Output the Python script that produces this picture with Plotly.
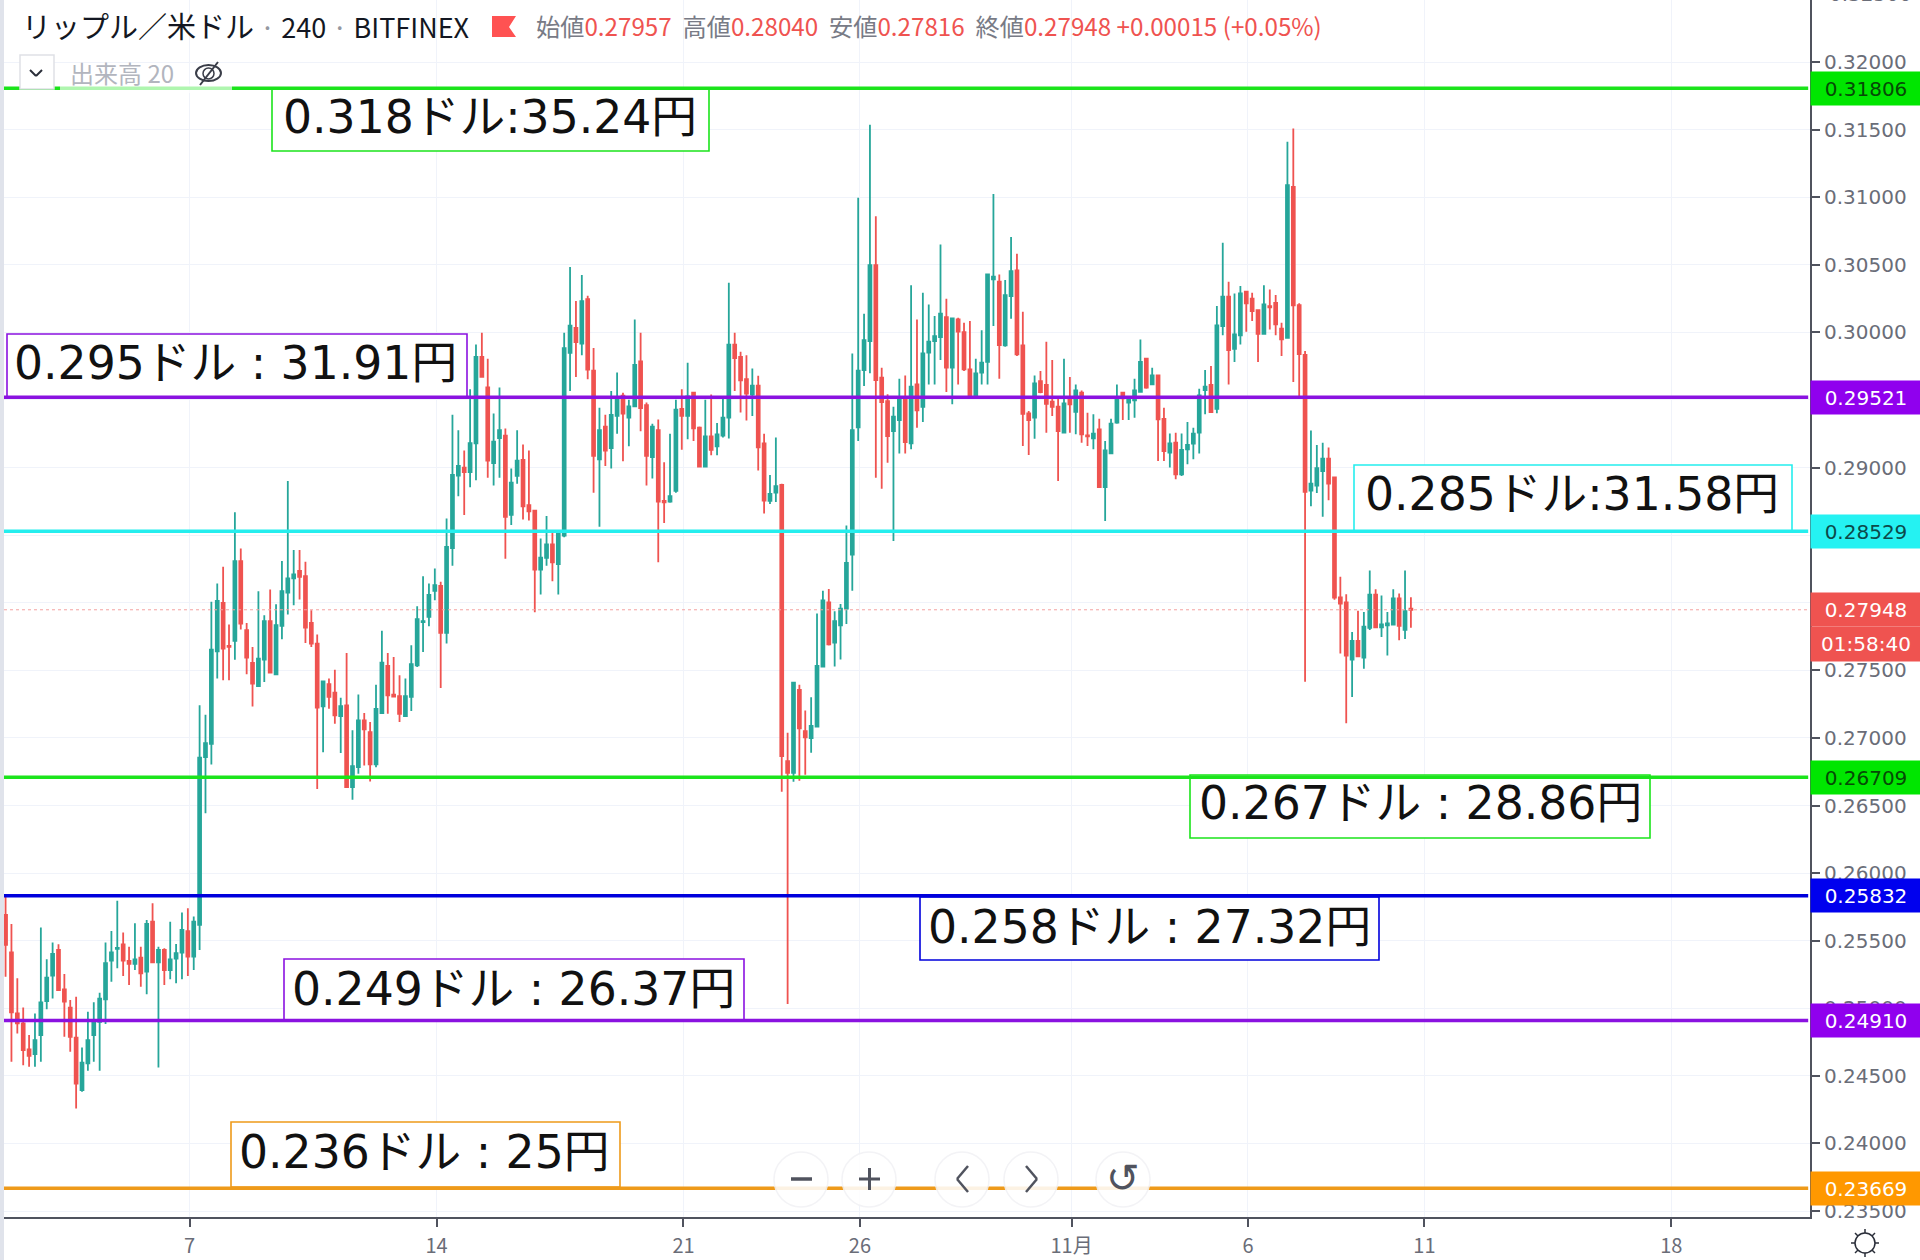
import pandas as pd
import plotly.graph_objects as go

opens = [
0.25691,0.25414,0.24962,0.24888,0.24695,0.24661,0.24802,0.25054,0.25241,0.25432,
0.25140,0.25005,0.24782,0.24394,0.24592,0.24802,0.24900,0.25066,0.25352,0.25439,
0.25473,0.25350,0.25328,0.25375,0.25271,0.25641,0.25340,0.25432,0.25283,0.25367,
0.25412,0.25570,0.25382,0.25617,0.26858,0.26957,0.27641,0.27999,0.27681,0.27718,
0.28308,0.27797,0.27555,0.27384,0.27579,0.27863,0.27471,0.27829,0.28076,0.28180,
0.28236,0.28197,0.27851,0.27698,0.27234,0.27397,0.27335,0.27162,0.27241,0.26636,
0.26784,0.27130,0.27043,0.26804,0.27184,0.27532,0.27320,0.27310,0.27162,0.27303,
0.27537,0.27856,0.27896,0.28088,0.28125,0.27777,0.28405,0.28941,0.28999,0.28967,
0.29179,0.29818,0.29593,0.29033,0.29218,0.29237,0.28650,0.28938,0.29057,0.28722,
0.28682,0.28246,0.28333,0.28431,0.28286,0.28497,0.29849,0.30034,0.29918,0.30246,
0.29717,0.29060,0.29303,0.29144,0.29382,0.29532,0.29369,0.29453,0.29786,0.29461,
0.29078,0.29276,0.28753,0.28748,0.28827,0.29435,0.29382,0.29554,0.29295,0.29007,
0.29231,0.29157,0.29237,0.29369,0.29910,0.29818,0.29654,0.29540,0.29606,0.29179,
0.28753,0.28814,0.28872,0.26828,0.26741,0.27356,0.27050,0.26999,0.27084,0.27528,
0.28003,0.27705,0.27832,0.27956,0.28357,0.29297,0.29721,0.29936,0.30498,0.29665,
0.29492,0.29270,0.29352,0.29505,0.29179,0.29615,0.29450,0.29850,0.29936,0.29965,
0.30113,0.29739,0.30096,0.30002,0.29726,0.29517,0.29702,0.29783,0.30392,0.30375,
0.29904,0.30269,0.30458,0.29904,0.29401,0.29369,0.29640,0.29611,0.29487,0.29450,
0.29258,0.29505,0.29413,0.29554,0.29238,0.29216,0.29283,0.28856,0.29105,0.29332,
0.29554,0.29480,0.29497,0.29561,0.29805,0.29615,0.29682,0.29361,0.29110,0.29184,
0.28950,0.29135,0.29177,0.29258,0.29574,0.29611,0.29435,0.30047,0.30264,0.29879,
0.29978,0.30301,0.30249,0.30165,0.29990,0.30195,0.30219,0.30027,0.29960,0.31077,
0.30201,0.29833,0.28830,0.28867,0.28974,0.29066,0.28928,0.28039,0.28002,0.27579,
0.27717,0.27594,0.27815,0.28060,0.27818,0.27833,0.27839,0.28032,0.27799,0.27957,
]
highs = [
0.25827,0.25624,0.25222,0.25005,0.24802,0.24962,0.25597,0.25362,0.25486,0.25473,
0.25254,0.25061,0.25086,0.24710,0.24975,0.25044,0.25115,0.25486,0.25572,0.25795,
0.25560,0.25456,0.25629,0.25456,0.25654,0.25777,0.25456,0.25444,0.25641,0.25476,
0.25708,0.25740,0.25679,0.27241,0.27172,0.28007,0.28143,0.28266,0.27839,0.28669,
0.28402,0.27851,0.27673,0.28086,0.27908,0.28098,0.27989,0.28308,0.28901,0.28390,
0.28390,0.28303,0.27945,0.27765,0.27419,0.27439,0.27505,0.27298,0.27629,0.27056,
0.27322,0.27184,0.27117,0.27394,0.27792,0.27629,0.27599,0.27463,0.27439,0.27686,
0.27975,0.28197,0.28143,0.28254,0.28155,0.28624,0.29390,0.29276,0.29126,0.29580,
0.29910,0.29997,0.29805,0.29400,0.29593,0.29290,0.28994,0.29276,0.29171,0.29126,
0.28682,0.28476,0.28642,0.28518,0.28524,0.29997,0.30483,0.30232,0.30425,0.30272,
0.29884,0.29443,0.29390,0.29567,0.29704,0.29554,0.29501,0.30095,0.29997,0.29482,
0.29324,0.29356,0.29039,0.29250,0.29501,0.29580,0.29775,0.29559,0.29303,0.29501,
0.29540,0.29329,0.29514,0.30367,0.29997,0.29857,0.29831,0.29733,0.29680,0.29250,
0.28946,0.29223,0.28880,0.27039,0.27409,0.27393,0.27203,0.27301,0.27921,0.28088,
0.28101,0.27937,0.27990,0.28571,0.29844,0.30996,0.30138,0.31536,0.30860,0.29739,
0.29542,0.29450,0.29657,0.29682,0.30348,0.30096,0.30293,0.30207,0.30121,0.30651,
0.30249,0.30108,0.30108,0.30071,0.30084,0.29805,0.30015,0.30429,0.31023,0.30429,
0.30387,0.30705,0.30582,0.30153,0.29418,0.29682,0.29714,0.29931,0.29795,0.29509,
0.29805,0.29670,0.29615,0.29571,0.29406,0.29394,0.29361,0.29196,0.29361,0.29615,
0.29559,0.29505,0.29657,0.29948,0.29805,0.29739,0.29682,0.29443,0.29253,0.29258,
0.29253,0.29337,0.29295,0.29583,0.29721,0.29751,0.30195,0.30663,0.30375,0.30288,
0.30343,0.30301,0.30293,0.30165,0.30348,0.30318,0.30276,0.30071,0.31410,0.31509,
0.30216,0.29863,0.29275,0.29167,0.29183,0.29149,0.28928,0.28192,0.28063,0.27784,
0.27940,0.27931,0.28238,0.28100,0.28054,0.27931,0.28100,0.28069,0.28238,0.28040,
]
lows = [
0.25234,0.24604,0.24814,0.24579,0.24567,0.24567,0.24604,0.24992,0.25073,0.25130,
0.24789,0.24678,0.24258,0.24382,0.24537,0.24604,0.24537,0.24883,0.25197,0.25296,
0.25239,0.25172,0.25283,0.25160,0.25103,0.25333,0.24562,0.25172,0.25214,0.25185,
0.25214,0.25239,0.25283,0.25432,0.26443,0.26804,0.27439,0.27426,0.27426,0.27579,
0.27802,0.27471,0.27233,0.27384,0.27414,0.27481,0.27471,0.27730,0.27913,0.27982,
0.28024,0.27703,0.27673,0.26623,0.26895,0.27216,0.27105,0.26888,0.26636,0.26542,
0.26735,0.26796,0.26678,0.26784,0.27179,0.27179,0.27303,0.27117,0.27162,0.27199,
0.27525,0.27636,0.27826,0.28019,0.27369,0.27698,0.28273,0.28788,0.28650,0.28854,
0.28907,0.29665,0.28925,0.28867,0.28925,0.28326,0.28576,0.28880,0.28616,0.28608,
0.27929,0.28061,0.28273,0.28159,0.28061,0.28484,0.29567,0.29670,0.29831,0.29654,
0.28814,0.28563,0.29012,0.28994,0.29250,0.29047,0.29157,0.29448,0.29268,0.28867,
0.28920,0.28299,0.28590,0.28740,0.28814,0.29131,0.29210,0.29197,0.29007,0.29007,
0.29091,0.29091,0.29223,0.29216,0.29567,0.29408,0.29348,0.29382,0.28978,0.28661,
0.28730,0.28745,0.26601,0.25032,0.26675,0.26683,0.26728,0.26891,0.27084,0.27528,
0.27684,0.27528,0.27581,0.27842,0.28088,0.29197,0.29603,0.29697,0.28925,0.28844,
0.29036,0.28457,0.29105,0.29105,0.29135,0.29295,0.29337,0.29615,0.29615,0.29795,
0.29559,0.29468,0.29615,0.29714,0.29517,0.29517,0.29615,0.29615,0.30047,0.29657,
0.29894,0.30101,0.29825,0.29159,0.29093,0.29214,0.29549,0.29258,0.29381,0.28901,
0.29258,0.29258,0.29246,0.29184,0.29159,0.29135,0.28856,0.28605,0.29105,0.29325,
0.29352,0.29352,0.29369,0.29554,0.29583,0.29611,0.29048,0.29048,0.29000,0.28913,
0.28938,0.29024,0.29061,0.29105,0.29394,0.29406,0.29401,0.29978,0.29615,0.29781,
0.29911,0.30005,0.30084,0.29781,0.29990,0.30022,0.29978,0.29825,0.29953,0.29633,
0.29511,0.27416,0.28713,0.28812,0.28637,0.28759,0.28023,0.27625,0.27109,0.27303,
0.27603,0.27511,0.27799,0.27818,0.27747,0.27609,0.27839,0.27723,0.27732,0.27816,
]
closes = [
0.25469,0.24970,0.24888,0.24691,0.24649,0.24765,0.25044,0.25227,0.25402,0.25135,
0.25049,0.24789,0.24443,0.24597,0.24765,0.24900,0.25071,0.25333,0.25414,0.25446,
0.25352,0.25328,0.25362,0.25259,0.25624,0.25340,0.25432,0.25283,0.25362,0.25407,
0.25580,0.25382,0.25641,0.26854,0.26962,0.27653,0.28014,0.27661,0.27673,0.28308,
0.27846,0.27594,0.27402,0.27587,0.27863,0.27483,0.27834,0.28086,0.28180,0.28209,
0.28192,0.27816,0.27698,0.27224,0.27419,0.27303,0.27167,0.27236,0.26636,0.26791,
0.27130,0.27063,0.26804,0.27214,0.27557,0.27315,0.27305,0.27179,0.27310,0.27545,
0.27878,0.27863,0.28058,0.28130,0.27777,0.28414,0.28946,0.29012,0.28967,0.29181,
0.29818,0.29672,0.29052,0.29192,0.29276,0.28635,0.28888,0.29052,0.28714,0.28677,
0.28246,0.28333,0.28431,0.28299,0.28510,0.29884,0.30050,0.29929,0.30232,0.29725,
0.29086,0.29276,0.29126,0.29390,0.29501,0.29400,0.29453,0.29760,0.29440,0.29086,
0.29303,0.28748,0.28743,0.28788,0.29429,0.29382,0.29527,0.29290,0.29007,0.29231,
0.29131,0.29245,0.29369,0.29910,0.29810,0.29646,0.29548,0.29606,0.29150,0.28756,
0.28806,0.28862,0.26865,0.26741,0.27409,0.27071,0.27005,0.27089,0.27533,0.28017,
0.27692,0.27863,0.27956,0.28294,0.29276,0.29717,0.29943,0.30498,0.29647,0.29485,
0.29233,0.29376,0.29505,0.29189,0.29598,0.29423,0.29845,0.29931,0.29973,0.30138,
0.29739,0.30103,0.30005,0.29726,0.29529,0.29697,0.29776,0.30429,0.30412,0.29906,
0.30276,0.30454,0.29837,0.29398,0.29352,0.29623,0.29559,0.29472,0.29450,0.29270,
0.29475,0.29468,0.29571,0.29246,0.29231,0.29251,0.28856,0.29127,0.29325,0.29517,
0.29512,0.29505,0.29571,0.29781,0.29591,0.29682,0.29357,0.29122,0.29179,0.28950,
0.29130,0.29167,0.29251,0.29534,0.29598,0.29411,0.30052,0.30264,0.29869,0.29985,
0.30288,0.30214,0.30158,0.29990,0.30207,0.30185,0.30059,0.29948,0.31090,0.30200,
0.29839,0.28821,0.28882,0.28995,0.29066,0.28882,0.28039,0.27993,0.27609,0.27717,
0.27603,0.27824,0.28060,0.27818,0.27839,0.27848,0.28032,0.27830,0.27937,0.27948,
]

tick_dates = ["2019-10-07", "2019-10-14", "2019-10-21", "2019-10-26",
              "2019-11-01", "2019-11-06", "2019-11-11", "2019-11-18"]
tick_labels = ["7", "14", "21", "26", "11月", "6", "11", "18"]

level_values = [0.31806, 0.29521, 0.28529, 0.26709, 0.25832, 0.24910, 0.23669]
level_labels = ["0.31806", "0.29521", "0.28529", "0.26709", "0.25832", "0.24910", "0.23669"]
line_colors = ["#1be41b", "#8a12e0", "#25eeee", "#1be41b", "#0000dc", "#8a12e0", "#ee9a1a"]
tag_colors = ["#00e600", "#9000ee", "#25f2f2", "#00e600", "#0000ee", "#9000ee", "#ff9800"]
tag_text = ["#064a06", "#ffffff", "#0c4a4a", "#064a06", "#ffffff", "#ffffff", "#ffffff"]
box_texts = ["0.318ドル:35.24円", "0.295ドル : 31.91円", "0.285ドル:31.58円", "0.267ドル : 28.86円",
             "0.258ドル : 27.32円", "0.249ドル : 26.37円", "0.236ドル : 25円"]

PL, PR, PB = 4, 1810, 1217
def px(x): return (x - PL) / (PR - PL)
def py(y): return (PB - y) / PB

times = pd.date_range("2019-10-01 18:50", periods=len(opens), freq="4h")
UP, DOWN = "#26a69a", "#ef5350"
TXT = "#6a6d78"
FONT = "DejaVu Sans"
CJK = "Noto Sans CJK JP"
MIX = "DejaVu Sans, Noto Sans CJK JP"

fig = go.Figure(go.Candlestick(
    x=times, open=opens, high=highs, low=lows, close=closes,
    increasing=dict(line=dict(color=UP, width=1.8), fillcolor=UP),
    decreasing=dict(line=dict(color=DOWN, width=1.8), fillcolor=DOWN),
    whiskerwidth=0, showlegend=False, hoverinfo="skip",
))

shapes = []
def line(x0, y0, x1, y1, color, width):
    shapes.append(dict(type="line", xref="paper", yref="paper", x0=px(x0), x1=px(x1),
                       y0=py(y0), y1=py(y1), line=dict(color=color, width=width)))
def rect(x0, y0, x1, y1, fill, color="rgba(0,0,0,0)", width=0, opacity=1, kind="rect"):
    shapes.append(dict(type=kind, xref="paper", yref="paper", x0=px(x0), x1=px(x1),
                       y0=py(y0), y1=py(y1), fillcolor=fill, opacity=opacity,
                       line=dict(color=color, width=width)))

shapes.append(dict(type="line", xref="paper", yref="y", x0=0, x1=1, y0=closes[-1], y1=closes[-1],
                   line=dict(color="#f4a3a1", width=1, dash="dot")))

# label boxes, under the level lines so that each line stays whole
boxes = [(272, 709, 89, 151), (7, 467, 334, 397), (1354, 1792, 465, 531), (1190, 1650, 775, 838),
         (920, 1379, 897, 960), (284, 744, 959, 1020), (231, 620, 1122, 1187)]
for (x0, x1, y0, y1), c in zip(boxes, line_colors):
    rect(x0, y0, x1, y1, "#ffffff", c, 1.6)

for v, c in zip(level_values, line_colors):
    shapes.append(dict(type="line", xref="paper", yref="y", x0=0, x1=0.999, y0=v, y1=v,
                       line=dict(color=c, width=3.5)))

rect(0, 0, 4, 1260, "#e0e3eb")
rect(60, 84, 232, 93, "#ffffff", opacity=0.65)
rect(20, 55, 54, 89, "#ffffff", "#dfe1e6", 1.5)
line(30, 70, 36, 76, "#2a2e39", 2)
line(36, 76, 42, 70, "#2a2e39", 2)
rect(196, 65, 221, 81, "rgba(0,0,0,0)", "#3a3d48", 2, kind="circle")
line(200, 85, 218, 62, "#3a3d48", 2)
rect(203, 68, 214, 79, "rgba(0,0,0,0)", "#3a3d48", 1.5, kind="circle")
shapes.append(dict(type="path", xref="paper", yref="paper",
                   path=f"M {px(492)},{py(16)} L {px(516)},{py(16)} L {px(509)},{py(27)} L {px(516)},{py(37)} L {px(492)},{py(37)} Z",
                   fillcolor="#ff5252", line=dict(width=0)))
for cx in [801, 869, 962, 1031, 1123]:
    rect(cx - 27, 1152, cx + 27, 1207, "#ffffff", "#f2f2f5", 1.5, opacity=0.88, kind="circle")
line(791, 1179, 812, 1179, "#50535e", 3.5)
line(859, 1179, 880, 1179, "#50535e", 3)
line(869.5, 1168, 869.5, 1190, "#50535e", 3)
line(968, 1166, 957, 1179, "#50535e", 2.5)
line(957, 1179, 968, 1192, "#50535e", 2.5)
line(1026, 1166, 1037, 1179, "#50535e", 2.5)
line(1037, 1179, 1026, 1192, "#50535e", 2.5)
rect(1855, 1233, 1875, 1253, "#ffffff", "#2a2e39", 1.5, kind="circle")
for dx0, dy0, dx1, dy1 in [(0, -10, 0, -14), (0, 10, 0, 14), (-10, 0, -14, 0), (10, 0, 14, 0),
                           (-7, -7, -10, -10), (7, -7, 10, -10), (-7, 7, -10, 10), (7, 7, 10, 10)]:
    line(1865 + dx0, 1243 + dy0, 1865 + dx1, 1243 + dy1, "#2a2e39", 1.5)

ann = []
for v, lab, bg, tc in zip(level_values, level_labels, tag_colors, tag_text):
    ann.append(dict(text=lab, xref="paper", yref="y", x=1, y=v, xanchor="left", yanchor="middle",
                    width=110, height=33, bgcolor=bg, borderpad=0, showarrow=False, align="center",
                    font=dict(family=FONT, size=20, color=tc)))
ann.append(dict(text=f"{closes[-1]:.5f}", xref="paper", yref="y", x=1, y=closes[-1], xanchor="left", yanchor="middle",
                width=110, height=33, bgcolor=DOWN, borderpad=0, showarrow=False, align="center",
                font=dict(family=FONT, size=20, color="#ffffff")))
ann.append(dict(text="01:58:40", xref="paper", yref="paper", x=1, y=py(644), xanchor="left", yanchor="middle",
                width=110, height=34, bgcolor=DOWN, borderpad=0, showarrow=False, align="center",
                font=dict(family=FONT, size=20, color="#ffffff")))
ann.append(dict(text="0.32500", xref="paper", yref="paper", x=px(1827), y=1, xanchor="left", yanchor="middle",
                yshift=6, showarrow=False, font=dict(family=FONT, size=20, color=TXT)))
box_centers = [(490, 117.5), (236, 363.7), (1572, 494.7), (1420, 803), (1149, 928), (513, 989), (424, 1152)]
for t, (cx, cy) in zip(box_texts, box_centers):
    ann.append(dict(text=t, xref="paper", yref="paper", x=px(cx), y=py(cy), xanchor="center", yanchor="middle",
                    showarrow=False, borderpad=0, font=dict(family=MIX, size=45.7, color="#111111")))
sep = "<span style='color:#9598a1'>·</span>"
ann.append(dict(text=f"<span style='font-size:29px'>リップル／米ドル</span> {sep} 240 {sep} BITFINEX",
                xref="paper", yref="paper", x=px(20), y=py(25), xanchor="left", yanchor="middle", showarrow=False,
                font=dict(family=CJK, size=27, color="#131722")))
R = "#ef5350"
hdr = (f"始値<span style='color:{R}'>0.27957</span>  高値<span style='color:{R}'>0.28040</span>  "
       f"安値<span style='color:{R}'>0.27816</span>  終値<span style='color:{R}'>0.27948</span> "
       f"<span style='color:{R}'>+0.00015 (+0.05%)</span>")
ann.append(dict(text=hdr, xref="paper", yref="paper", x=px(534), y=py(25), xanchor="left", yanchor="middle",
                showarrow=False, font=dict(family=CJK, size=24.2, color="#787b86")))
ann.append(dict(text="出来高 20", xref="paper", yref="paper", x=px(68), y=py(72), xanchor="left", yanchor="middle",
                showarrow=False, font=dict(family=CJK, size=24, color="#b2b5be")))
ann.append(dict(text="↺", xref="paper", yref="paper", x=px(1123), y=py(1178), xanchor="center", yanchor="middle",
                showarrow=False, font=dict(family=FONT, size=40, color="#50535e")))

fig.update_layout(
    width=1920, height=1260, autosize=False,
    margin=dict(l=PL, r=1920 - PR, t=0, b=1260 - PB, pad=0),
    paper_bgcolor="#ffffff", plot_bgcolor="#ffffff",
    showlegend=False, shapes=shapes, annotations=ann, boxgap=0.3,
    xaxis=dict(type="date", range=["2019-10-01 17:46", "2019-11-21 22:19"],
               rangeslider=dict(visible=False), tickmode="array",
               tickvals=tick_dates, ticktext=tick_labels, ticks="outside", ticklen=8, tickwidth=1.5,
               tickcolor="#50535e", showline=True, linecolor="#50535e", linewidth=2,
               showgrid=True, gridcolor="#f0f3fa", gridwidth=1, zeroline=False, ticklabelstandoff=2,
               tickfont=dict(family=CJK, size=20, color=TXT)),
    yaxis=dict(side="right", range=[0.23456, 0.32459], tickmode="linear", tick0=0.235, dtick=0.005,
               tickformat=".5f", ticks="outside", ticklen=8, tickwidth=1.5, tickcolor="#50535e",
               showline=True, linecolor="#50535e", linewidth=2, showgrid=True, gridcolor="#f0f3fa",
               gridwidth=1, zeroline=False, tickfont=dict(family=FONT, size=20, color=TXT)),
)

fig.write_html("out.html", config=dict(displayModeBar=False),
               post_script="document.body.style.margin='0';document.body.style.overflow='hidden';")
